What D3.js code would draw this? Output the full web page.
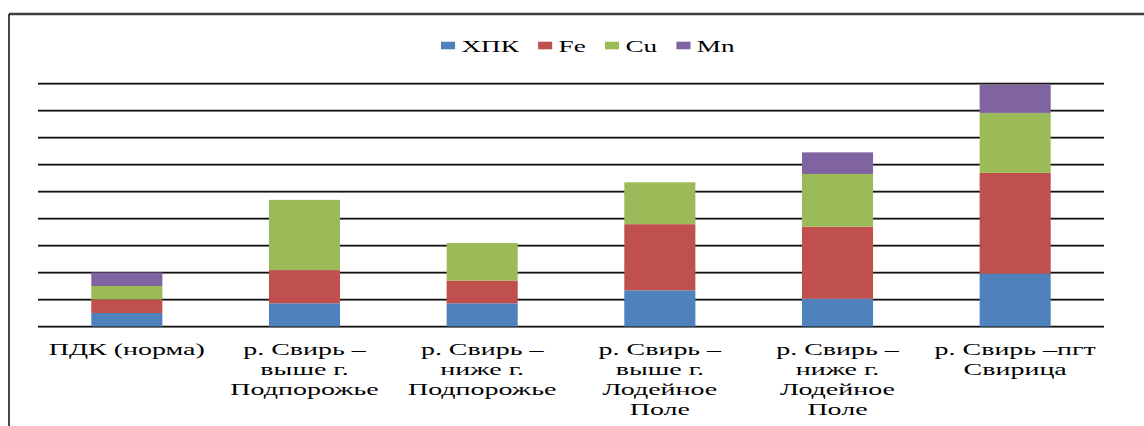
<!DOCTYPE html>
<html>
<head>
<meta charset="utf-8">
<script src="https://cdn.jsdelivr.net/npm/d3@7"></script>
<style>
  html, body { margin: 0; padding: 0; background: #fff; }
  svg { display: block; }
  text { font-family: "Liberation Serif", "Times New Roman", serif; fill: #000; }
</style>
</head>
<body>
<svg id="chart" width="1144" height="426"></svg>
<script>
// Sampling points on the Svir river (each label line separated by \n)
const categories = [
  "ПДК (норма)",
  "р. Свирь –\nвыше г.\nПодпорожье",
  "р. Свирь –\nниже г.\nПодпорожье",
  "р. Свирь –\nвыше г.\nЛодейное\nПоле",
  "р. Свирь –\nниже г.\nЛодейное\nПоле",
  "р. Свирь –пгт\nСвирица"
];

// Series names, stacked bottom to top
const seriesNames = ["ХПК", "Fe", "Cu", "Mn"];

// Stacked segment values per category
const valuesXPK = [0.5, 0.86, 0.86, 1.34, 1.03, 1.96];
const valuesFe  = [0.5, 1.23, 0.84, 2.45, 2.67, 3.73];
const valuesCu  = [0.5, 2.60, 1.39, 1.55, 1.95, 2.22];
const valuesMn  = [0.5, 0.00, 0.00, 0.00, 0.80, 1.05];

const gridTicks = [0, 1, 2, 3, 4, 5, 6, 7, 8, 9];

const colors = ["#4F81BD", "#C0504D", "#9BBB59", "#8064A2"];
const stretch = 1.6; // horizontal text stretch

const svg = d3.select("#chart");

const rows = categories.map((c, i) => ({
  cat: c,
  "ХПК": valuesXPK[i],
  "Fe": valuesFe[i],
  "Cu": valuesCu[i],
  "Mn": valuesMn[i]
}));

const plot = { left: 38, right: 1104, top: 83.5, bottom: 326.5 };

const x = d3.scaleBand()
  .domain(categories)
  .range([plot.left, plot.right])
  .paddingInner(0.6)
  .paddingOuter(0.3);

const y = d3.scaleLinear()
  .domain([0, 9])
  .range([plot.bottom, plot.top]);

const color = d3.scaleOrdinal().domain(seriesNames).range(colors);

// Outer frame (top and left edges visible)
svg.append("line").attr("x1", 9).attr("x2", 1144).attr("y1", 14).attr("y2", 14)
  .attr("stroke", "#404040").attr("stroke-width", 2.5);
svg.append("line").attr("x1", 9).attr("x2", 9).attr("y1", 14).attr("y2", 426)
  .attr("stroke", "#1a1a1a").attr("stroke-width", 1.6);

// Horizontal gridlines with a soft shadow beneath
const grid = svg.append("g");
grid.selectAll("line.shadow").data(gridTicks).join("line")
  .attr("class", "shadow")
  .attr("x1", plot.left).attr("x2", plot.right)
  .attr("y1", d => y(d) + 1).attr("y2", d => y(d) + 1)
  .attr("stroke", "#9a9a9a").attr("stroke-width", 1);
grid.selectAll("line.main").data(gridTicks).join("line")
  .attr("class", "main")
  .attr("x1", plot.left).attr("x2", plot.right)
  .attr("y1", d => y(d)).attr("y2", d => y(d))
  .attr("stroke", "#111").attr("stroke-width", 1.3);

// Stacked bars
const stacked = d3.stack().keys(seriesNames)(rows);
svg.append("g").selectAll("g").data(stacked).join("g")
  .attr("fill", d => color(d.key))
  .selectAll("rect").data(d => d.filter(s => s[1] - s[0] > 0)).join("rect")
  .attr("x", d => x(d.data.cat))
  .attr("width", x.bandwidth())
  .attr("y", d => y(d[1]))
  .attr("height", d => y(d[0]) - y(d[1]));

// Category labels
const labels = svg.append("g");
categories.forEach(c => {
  const g = labels.append("g")
    .attr("transform", `translate(${x(c) + x.bandwidth() / 2},355) scale(${stretch},1)`);
  c.split("\n").forEach((line, k) => {
    g.append("text")
      .attr("x", 0).attr("y", k * 20)
      .attr("text-anchor", "middle")
      .attr("font-size", 17.5)
      .text(line);
  });
});

// Legend
const legend = svg.append("g")
  .attr("transform", `translate(441,52) scale(${stretch},1)`);
let cursor = 0;
seriesNames.forEach(name => {
  legend.append("rect")
    .attr("x", cursor).attr("y", -10.3)
    .attr("width", 8.8).attr("height", 7.6)
    .attr("fill", color(name));
  const t = legend.append("text")
    .attr("x", cursor + 8.8 + 4).attr("y", 0)
    .attr("font-size", 17)
    .text(name);
  cursor += 8.8 + 4 + t.node().getComputedTextLength() + 12;
});
</script>
</body>
</html>
